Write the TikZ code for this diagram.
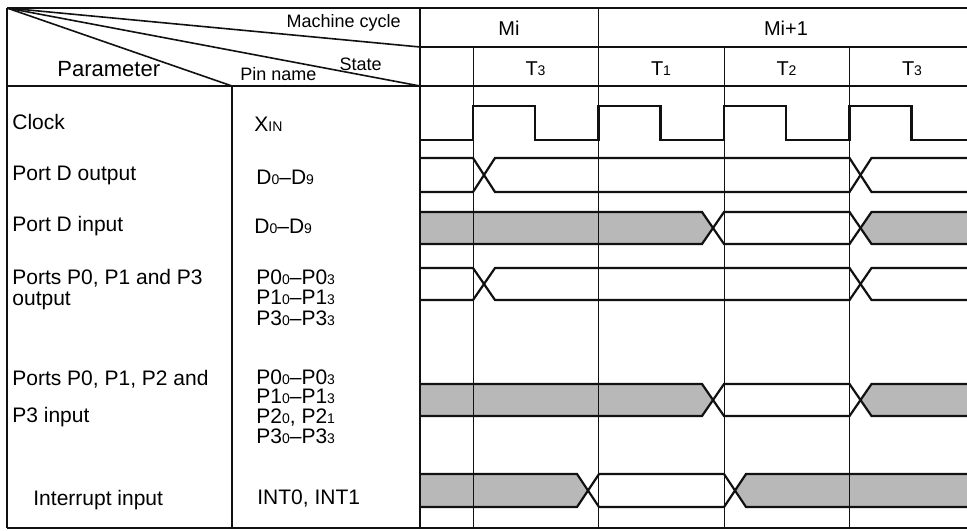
\documentclass[tikz,border=0pt]{standalone}
\usepackage{fontspec}
\setmainfont{Liberation Sans}
\definecolor{tmInk}{HTML}{111111}
\definecolor{tmShade}{HTML}{B8B8B8}
\tikzset{
  frame/.style={draw=tmInk, line width=1pt},
  diag/.style={draw=tmInk, line width=0.8pt},
  gridline/.style={draw=tmInk, line width=0.5pt},
  wave/.style={draw=tmInk, line width=1.1pt, line join=miter},
  invalid/.style={fill=tmShade, draw=none},
  lbl/.style={anchor=base west, inner sep=0pt, font=\fontsize{10.5}{12}\selectfont},
  pin/.style={anchor=base west, inner sep=0pt, font=\fontsize{10.5}{12}\selectfont},
  hdr/.style={inner sep=0pt, font=\fontsize{9}{11}\selectfont},
  cyc/.style={anchor=base, inner sep=0pt, font=\fontsize{10}{12}\selectfont},
}
\newcommand{\pinsub}[1]{{\fontsize{7}{8}\selectfont #1}}

\begin{document}
\begin{tikzpicture}[x=0.5pt,y=-0.5pt]
    \useasboundingbox (0,0) rectangle (967,530);
    % shaded (invalid) parts of the input buses
    \foreach \yh/\yl/\xa/\xb in {212/244/702/849.5, 384/416/702/849.5, 474/507/577/724}{
      \fill[invalid] (420,\yh) -- (\xa,\yh) -- (\xa+11,{(\yh+\yl)/2}) -- (\xa,\yl) -- (420,\yl) -- cycle;
      \fill[invalid] (967,\yh) -- (\xb+22,\yh) -- (\xb+11,{(\yh+\yl)/2}) -- (\xb+22,\yl) -- (967,\yl) -- cycle;
    }
    % state columns
    \draw[gridline,line width=0.7pt] (598.5,8) -- (598.5,528);
    \foreach \x in {473,724,849.5} \draw[gridline] (\x,47) -- (\x,528);
    % frame and header
    \draw[frame] (7,8) -- (967,8);
    \draw[frame] (420,47) -- (967,47);
    \draw[frame] (7,86) -- (967,86);
    \draw[frame] (7,528) -- (967,528);
    \draw[frame] (7,8) -- (7,528);
    \draw[frame] (232,86) -- (232,528);
    \draw[frame] (420,8) -- (420,528);
    \draw[diag] (7,8) -- (420,47);
    \draw[diag] (7,8) -- (420,86);
    \draw[diag] (7,8) -- (232,86);
    \node[hdr,anchor=base east] (mcyc) at (401,27) {Machine cycle};
    \node[hdr,anchor=base east] (state) at (382,70) {State};
    \node[hdr,anchor=base west] (pname) at (240,80) {Pin name};
    \node[lbl,font=\fontsize{11}{13}\selectfont] (param) at (57,76) {Parameter};
    \node[cyc] (mi) at (509,35) {Mi};
    \node[cyc] (mi1) at (786,35) {Mi+1};
    \foreach \n/\x/\s in {t3a/535.5/3, t1/661/1, t2/786.5/2, t3b/912/3}
      \node[cyc] (\n) at (\x,75) {T\pinsub{\s}};
    % clock
    \draw[wave] (420,140) \foreach \x in {473,598.5,724,849.5}{ -- (\x,140) -- (\x,106) -- (\x+62,106) -- (\x+62,140)} -- (967,140);
    % outputs
    \foreach \yh/\yl in {158/192, 268/300}{
      \draw[wave] (420,\yh) -- (473,\yh) -- (495,\yl) -- (849.5,\yl) -- (871.5,\yh) -- (967,\yh);
      \draw[wave] (420,\yl) -- (473,\yl) -- (495,\yh) -- (849.5,\yh) -- (871.5,\yl) -- (967,\yl);
    }
    % inputs
    \foreach \yh/\yl/\xa/\xb in {212/244/702/849.5, 384/416/702/849.5, 474/507/577/724}{
      \draw[wave] (420,\yh) -- (\xa,\yh) -- (\xa+22,\yl) -- (\xb,\yl) -- (\xb+22,\yh) -- (967,\yh);
      \draw[wave] (420,\yl) -- (\xa,\yl) -- (\xa+22,\yh) -- (\xb,\yh) -- (\xb+22,\yl) -- (967,\yl);
    }
    % parameters
    \node[lbl] (clk) at (12,129.5) {Clock};
    \node[lbl] (pdo) at (12,180) {Port D output};
    \node[lbl] (pdi) at (12,231) {Port D input};
    \node[lbl] (poa) at (12,284) {Ports P0, P1 and P3};
    \node[lbl] (pob) at (12,305) {output};
    \node[lbl] (pia) at (12,385) {Ports P0, P1, P2 and};
    \node[lbl] (pib) at (12,422) {P3 input};
    \node[lbl] (irq) at (33,505) {Interrupt input};
    % pin names
    \node[pin] (clkpin) at (254,131) {X\pinsub{IN}};
    \node[pin] (pdopin) at (256,184) {D\pinsub{0}\textendash D\pinsub{9}};
    \node[pin] (pdipin) at (254,233) {D\pinsub{0}\textendash D\pinsub{9}};
    \foreach \n/\t/\y in {poa0/0/284, poa1/1/304, poa3/3/325, pia0/0/384, pia1/1/403, pia3/3/443}
      \node[pin] (\n) at (256,\y) {P\t\pinsub{0}\textendash P\t\pinsub{3}};
    \node[pin] (pia2) at (256,423) {P2\pinsub{0}, P2\pinsub{1}};
    \node[pin] (irqpin) at (257,504) {INT0, INT1};
\end{tikzpicture}
\end{document}
